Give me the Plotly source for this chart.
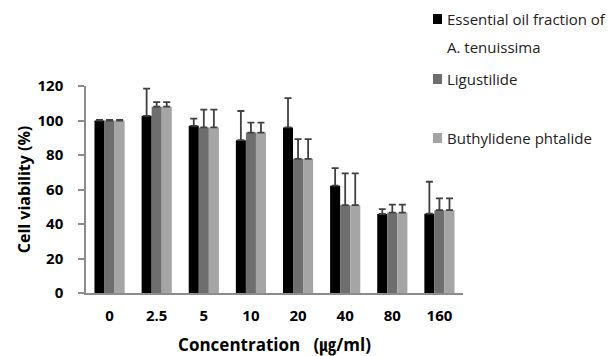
import plotly.graph_objects as go

categories = ["0", "2.5", "5", "10", "20", "40", "80", "160"]
names = ["Essential oil fraction of", "Ligustilide", "Buthylidene phtalide"]
name_line2 = "A. tenuissima"
oil_vals = [100, 102.7, 96.9, 88.6, 96.0, 62.2, 45.8, 46.0]
oil_err = [0.3, 15.8, 4.2, 16.9, 17.0, 10.2, 2.8, 18.5]
lig_vals = [100, 108.0, 96.0, 93.0, 77.8, 50.9, 46.6, 48.0]
lig_err = [0.3, 2.7, 10.3, 5.8, 11.4, 18.5, 4.6, 6.9]
but_vals = [100, 108.0, 96.0, 93.0, 77.8, 50.9, 46.6, 48.0]
but_err = [0.3, 2.7, 10.3, 5.8, 11.4, 18.5, 4.6, 6.9]
y_ticks = [0, 20, 40, 60, 80, 100, 120]

colors = ["#000000", "#6e6e6e", "#a5a5a5"]
series = [(oil_vals, oil_err), (lig_vals, lig_err), (but_vals, but_err)]

font_fam = "Open Sans, Noto Sans CJK KR, sans-serif"

W, H = 609, 356
ML, MR, MT, MB = 86, 146, 86, 63
PW, PH = W - ML - MR, H - MT - MB


def px_x(px):
    return (px - ML) / PW


def px_y(py):
    return (H - MB - py) / PH


fig = go.Figure()
full_names = [names[0] + " " + name_line2, names[1], names[2]]
for i, ((vals, errs), name) in enumerate(zip(series, full_names)):
    fig.add_trace(go.Bar(
        x=categories, y=vals, name=name, showlegend=False,
        marker=dict(color=colors[i], line=dict(width=0)),
        error_y=dict(type="data", symmetric=False, array=errs, arrayminus=[0]*len(errs),
                     color="#404040", thickness=1.8, width=3.5),
    ))

# manual legend (squares + text), positioned like the original
leg_rows = [19, 79, 138]          # text centre, px from top
annotations = []
shapes = []
for i, row in enumerate(leg_rows):
    shapes.append(dict(type="rect", xref="paper", yref="paper",
                       x0=px_x(433), x1=px_x(442), y0=px_y(row + 5), y1=px_y(row - 5),
                       fillcolor=colors[i], line=dict(width=0)))
    annotations.append(dict(text=names[i], xref="paper", yref="paper", x=px_x(445), y=px_y(row),
                            xanchor="left", yanchor="middle", showarrow=False,
                            font=dict(family=font_fam, size=15, color="#222222")))
annotations.append(dict(text=name_line2, xref="paper", yref="paper", x=px_x(445), y=px_y(46.5),
                        xanchor="left", yanchor="middle", showarrow=False,
                        font=dict(family=font_fam, size=15, color="#222222")))

fig.update_layout(
    width=W, height=H,
    margin=dict(l=ML, r=MR, t=MT, b=MB),
    plot_bgcolor="white", paper_bgcolor="white",
    barmode="group", bargap=0.36, bargroupgap=0,
    font=dict(family=font_fam, color="#000000"),
    showlegend=False,
    annotations=annotations, shapes=shapes,
    xaxis=dict(
        automargin=False,
        showline=True, linecolor="#8c8c8c", linewidth=1.5, ticks="",
        tickfont=dict(size=15, weight="bold", color="#000000"),
        ticklabelstandoff=8,
        title=dict(text="Concentration\u00a0\u00a0\u00a0(㎍/ml)", font=dict(size=17, weight="bold"), standoff=18),
    ),
    yaxis=dict(
        automargin=False,
        range=[0, 120], tickvals=y_ticks, showgrid=False, zeroline=False,
        showline=True, linecolor="#8c8c8c", linewidth=1.5,
        ticks="outside", ticklen=6, tickcolor="#8c8c8c", tickwidth=1.5,
        tickfont=dict(size=15, weight="bold", color="#000000"),
        ticklabelstandoff=12,
        title=dict(text="Cell viability (%)", font=dict(size=16, weight="bold"), standoff=3),
    ),
)

fig.write_html("out.html")
